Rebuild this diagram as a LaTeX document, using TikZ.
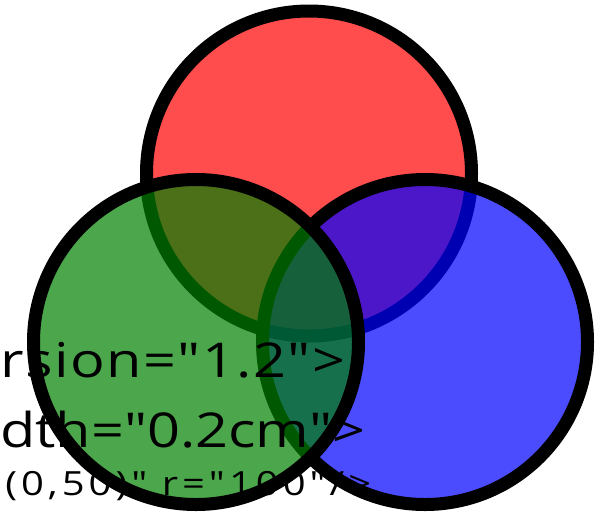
\documentclass[tikz,border=0pt]{standalone}
\usepackage{fontspec}
\newfontfamily\srcfont[FakeStretch=1.2]{Open Sans}
\definecolor{vred}{HTML}{FF0000}
\definecolor{vgreen}{HTML}{008000}
\definecolor{vblue}{HTML}{0000FF}
\tikzset{
  disc/.style={draw=black,line width=9.75pt,fill opacity=0.7},
  src/.style={anchor=base west,inner sep=0pt,text=black}
}
\begin{document}
\begin{tikzpicture}[x=0.75pt,y=-0.75pt]
  \useasboundingbox (0,0) rectangle (605,511);
  \def\r{162.5}% px to the middle of the stroke
  % red first, green last
  \foreach \cx/\cy/\col in {
    309/173.5/vred,
    425/342/vblue,
    196/342/vgreen}
  {
    \draw[disc,fill=\col] (\cx,\cy) circle[radius=\r];
  }
  % source lines, set over the discs
  \node[src,font=\srcfont\fontsize{36pt}{40pt}\selectfont\addfontfeature{LetterSpace=3}]
    (version) at (0,377) {rsion="1.2">};
  \node[src,font=\srcfont\fontsize{36pt}{40pt}\selectfont]
    (width) at (0,447) {dth="0.2cm">};
  \node[src,font=\srcfont\fontsize{25pt}{28pt}\selectfont\addfontfeature{LetterSpace=12}]
    (radius) at (5,495) {(0,50)" r="100"/>};
\end{tikzpicture}
\end{document}
